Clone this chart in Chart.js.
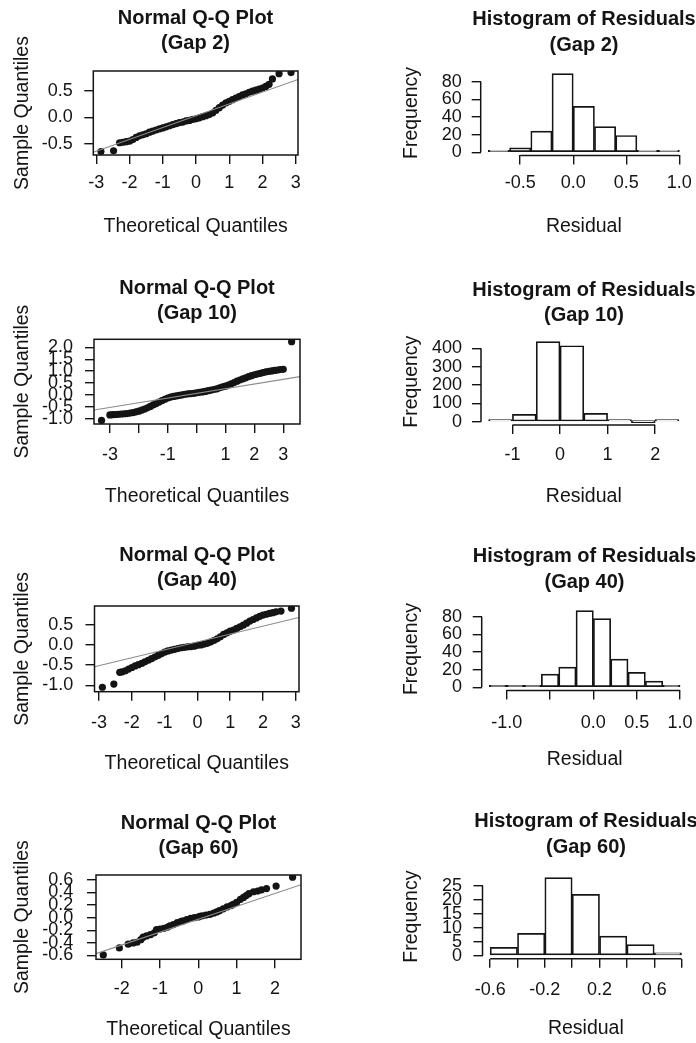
<!DOCTYPE html>
<html>
<head>
<meta charset="utf-8">
<script src="https://cdn.jsdelivr.net/npm/chart.js@4.4.1/dist/chart.umd.min.js"></script>
<style>
  html, body { margin: 0; padding: 0; background: #fff; overflow: hidden; }
  #page { position: relative; width: 696px; height: 1043px; overflow: hidden; background: #fff; }
  #page canvas { position: absolute; }
</style>
</head>
<body>
<div id="page"></div>
<script>
// ---- data ----
// Q-Q plots: theoretical quantile / sample quantile pairs
const qq2Theo = [-2.86, -2.48, -2.3, -2.2, -2.1, -2.0, -1.9, -1.8, -1.7, -1.6, -1.5, -1.4, -1.3, -1.2, -1.1, -1.0, -0.9, -0.8, -0.7, -0.6, -0.5, -0.4, -0.3, -0.2, -0.1,
  0.0, 0.1, 0.2, 0.3, 0.4, 0.5, 0.6, 0.7, 0.8, 0.9, 1.0, 1.1, 1.2, 1.3, 1.4, 1.5, 1.6, 1.7, 1.8, 1.9, 2.0, 2.1, 2.2, 2.3, 2.5, 2.86];
const qq2Sample = [-0.645, -0.63, -0.48, -0.47, -0.46, -0.45, -0.42, -0.38, -0.35, -0.33, -0.31, -0.28, -0.26, -0.24, -0.22, -0.20, -0.18, -0.16, -0.14, -0.12, -0.10, -0.09, -0.07, -0.06, -0.04,
  -0.03, -0.01, 0.01, 0.03, 0.05, 0.08, 0.13, 0.18, 0.23, 0.27, 0.30, 0.33, 0.36, 0.39, 0.42, 0.44, 0.47, 0.49, 0.51, 0.53, 0.55, 0.58, 0.62, 0.72, 0.82, 0.84];
const qq2LineX = [-3.09, 3.07];
const qq2LineY = [-0.66, 0.71];

const qq10Theo = [-3.29, -3.0, -2.9, -2.8, -2.7, -2.6, -2.5, -2.4, -2.3, -2.2, -2.1, -2.0, -1.9, -1.8, -1.7, -1.6, -1.5, -1.4, -1.3, -1.2, -1.1,
  -1.0, -0.9, -0.8, -0.7, -0.6, -0.5, -0.4, -0.3, -0.2, -0.1, 0.0, 0.1, 0.2, 0.3, 0.4, 0.5, 0.6, 0.7, 0.8, 0.9,
  1.0, 1.1, 1.2, 1.3, 1.4, 1.5, 1.6, 1.7, 1.8, 1.9, 2.0, 2.1, 2.2, 2.3, 2.4, 2.5, 2.6, 2.7, 2.8, 2.9, 3.0, 3.29];
const qq10Sample = [-1.07, -0.84, -0.83, -0.82, -0.81, -0.80, -0.79, -0.78, -0.76, -0.74, -0.71, -0.68, -0.64, -0.59, -0.54, -0.48, -0.42, -0.36, -0.30, -0.24, -0.18,
  -0.13, -0.09, -0.06, -0.04, -0.02, 0.00, 0.03, 0.05, 0.06, 0.07, 0.09, 0.11, 0.13, 0.15, 0.18, 0.20, 0.23, 0.26, 0.30, 0.34,
  0.37, 0.42, 0.47, 0.52, 0.58, 0.63, 0.68, 0.72, 0.77, 0.81, 0.85, 0.88, 0.91, 0.94, 0.97, 0.99, 1.01, 1.03, 1.05, 1.07, 1.08, 2.24];
const qq10LineX = [-3.55, 3.58];
const qq10LineY = [-0.63, 0.77];

const qq40Theo = [-2.9, -2.55, -2.37, -2.3, -2.2, -2.1, -2.0, -1.9, -1.8, -1.7, -1.6, -1.5, -1.4, -1.3, -1.2, -1.1, -1.0, -0.9, -0.8, -0.7, -0.6, -0.5, -0.4,
  -0.3, -0.2, -0.1, 0.0, 0.1, 0.2, 0.3, 0.4, 0.5, 0.6, 0.7, 0.8, 0.9, 1.0, 1.1, 1.2, 1.3, 1.4, 1.5, 1.6, 1.7, 1.8, 1.9, 2.0, 2.1, 2.2, 2.3, 2.4, 2.55, 2.87];
const qq40Sample = [-1.05, -0.97, -0.68, -0.67, -0.64, -0.60, -0.56, -0.52, -0.49, -0.46, -0.42, -0.38, -0.34, -0.30, -0.26, -0.22, -0.18, -0.15, -0.13, -0.11, -0.09, -0.07, -0.06,
  -0.05, -0.04, -0.03, -0.01, 0.00, 0.02, 0.04, 0.07, 0.11, 0.15, 0.20, 0.26, 0.30, 0.34, 0.37, 0.41, 0.45, 0.49, 0.54, 0.59, 0.63, 0.67, 0.71, 0.74, 0.76, 0.78, 0.80, 0.82, 0.84, 0.91];
const qq40LineX = [-3.14, 3.10];
const qq40LineY = [-0.54, 0.68];

const qq60Theo = [-2.48, -2.06, -1.83, -1.7, -1.6, -1.5, -1.44, -1.35, -1.25, -1.15, -1.09, -1.0, -0.9, -0.8, -0.74, -0.65, -0.55, -0.45, -0.39, -0.3, -0.2, -0.1,
  0.0, 0.04, 0.1, 0.2, 0.3, 0.4, 0.48, 0.55, 0.65, 0.75, 0.85, 0.91, 1.0, 1.1, 1.18, 1.25, 1.32, 1.44, 1.55, 1.65, 1.78, 2.03, 2.46];
const qq60Sample = [-0.59, -0.48, -0.42, -0.40, -0.39, -0.35, -0.31, -0.29, -0.27, -0.24, -0.19, -0.18, -0.17, -0.15, -0.13, -0.11, -0.08, -0.06, -0.05, -0.03, -0.01, 0.00,
  0.01, 0.02, 0.03, 0.04, 0.05, 0.07, 0.09, 0.11, 0.14, 0.17, 0.19, 0.21, 0.24, 0.29, 0.32, 0.35, 0.38, 0.41, 0.42, 0.44, 0.46, 0.50, 0.64];
const qq60LineX = [-2.67, 2.68];
const qq60LineY = [-0.57, 0.52];

// histograms: bin edges and counts
const hist2Edges = [-0.8, -0.6, -0.4, -0.2, 0.0, 0.2, 0.4, 0.6, 0.8, 1.0];
const hist2Counts = [2, 5, 24, 89, 52, 29, 19, 2, 2];
const hist10Edges = [-1.5, -1.0, -0.5, 0.0, 0.5, 1.0, 1.5, 2.0, 2.5];
const hist10Counts = [1, 40, 436, 414, 46, 1, 0, 1];
const hist40Edges = [-1.2, -1.0, -0.8, -0.6, -0.4, -0.2, 0.0, 0.2, 0.4, 0.6, 0.8, 1.0];
const hist40Counts = [1, 1, 2, 15, 23, 87, 78, 32, 17, 7, 2];
const hist60Edges = [-0.6, -0.4, -0.2, 0.0, 0.2, 0.4, 0.6, 0.8];
const hist60Counts = [3, 8, 28, 22, 7, 4, 1];

// axis limits and ticks
const qq2XLim = [-3.09, 3.07], qq2YLim = [-0.71, 0.87];
const qq10XLim = [-3.55, 3.58], qq10YLim = [-1.22, 2.34];
const qq40XLim = [-3.14, 3.10], qq40YLim = [-1.16, 0.965];
const qq60XLim = [-2.67, 2.68], qq60YLim = [-0.66, 0.675];

const qq2XTicks = [-3, -2, -1, 0, 1, 2, 3];
const qq2XLabels = ['-3', '-2', '-1', '0', '1', '2', '3'];
const qq2YTicks = [-0.5, 0, 0.5];
const qq2YLabels = ['-0.5', '0.0', '0.5'];
const qq10XTicks = [-3, -2, -1, 0, 1, 2, 3];
const qq10XLabels = ['-3', '', '-1', '', '1', '2', '3'];
const qq10YTicks = [-1, -0.5, 0, 0.5, 1, 1.5, 2];
const qq10YLabels = ['-1.0', '-0.5', '0.0', '0.5', '1.0', '1.5', '2.0'];
const qq40XTicks = [-3, -2, -1, 0, 1, 2, 3];
const qq40XLabels = ['-3', '-2', '-1', '0', '1', '2', '3'];
const qq40YTicks = [-1, -0.5, 0, 0.5];
const qq40YLabels = ['-1.0', '-0.5', '0.0', '0.5'];
const qq60XTicks = [-2, -1, 0, 1, 2];
const qq60XLabels = ['-2', '-1', '0', '1', '2'];
const qq60YTicks = [-0.6, -0.4, -0.2, 0, 0.2, 0.4, 0.6];
const qq60YLabels = ['-0.6', '-0.4', '-0.2', '0.0', '0.2', '0.4', '0.6'];

const hist2XTicks = [-0.5, 0, 0.5, 1.0];
const hist2XLabels = ['-0.5', '0.0', '0.5', '1.0'];
const hist2YTicks = [0, 20, 40, 60, 80];
const hist10XTicks = [-1, 0, 1, 2];
const hist10XLabels = ['-1', '0', '1', '2'];
const hist10YTicks = [0, 100, 200, 300, 400];
const hist40XTicks = [-1.0, -0.5, 0, 0.5, 1.0];
const hist40XLabels = ['-1.0', '', '0.0', '0.5', '1.0'];
const hist40YTicks = [0, 20, 40, 60, 80];
const hist60XTicks = [-0.6, -0.4, -0.2, 0, 0.2, 0.4, 0.6, 0.8];
const hist60XLabels = ['-0.6', '', '-0.2', '', '0.2', '', '0.6', ''];
const hist60YTicks = [0, 5, 10, 15, 20, 25];

// ---- layout (page pixels) ----
const geo = {
  qq2:    {col: 0,   L: 93.3,  R: 298,   T: 71,    B: 155,   titleY: 18.3,  xLabY: 183.3, xTitleY: 226.7, yTitleX: 22.7,  yLabRight: 72.7},
  hist2:  {col: 348, L: 480.7, R: 687,   T: 70.5,  B: 155.4, titleY: 19.5,  xLabY: 183.3, xTitleY: 226.7, yTitleX: 411.7, yLabRight: 461.7},
  qq10:   {col: 0,   L: 94,    R: 300,   T: 339.3, B: 424,   titleY: 288.3, xLabY: 455,   xTitleY: 496.7, yTitleX: 22.7,  yLabRight: 73},
  hist10: {col: 348, L: 481,   R: 686.6, T: 338.5, B: 424.9, titleY: 290,   xLabY: 455,   xTitleY: 496.7, yTitleX: 411.7, yLabRight: 462},
  qq40:   {col: 0,   L: 94.5,  R: 299,   T: 606,   B: 691.7, titleY: 555,   xLabY: 723.3, xTitleY: 763.3, yTitleX: 22.7,  yLabRight: 73.3},
  hist40: {col: 348, L: 481.7, R: 687.7, T: 607.6, B: 690.4, titleY: 556.7, xLabY: 723.3, xTitleY: 760,   yTitleX: 411.7, yLabRight: 462},
  qq60:   {col: 0,   L: 96,    R: 301,   T: 875,   B: 959.3, titleY: 823.3, xLabY: 989.3, xTitleY: 1030,  yTitleX: 22.7,  yLabRight: 73.3},
  hist60: {col: 348, L: 482.5, R: 689.2, T: 874.5, B: 958.8, titleY: 821.7, xLabY: 990,   xTitleY: 1028.3, yTitleX: 411.7, yLabRight: 462}
};

const ink = '#141414';
const TICK = 9, TICK_FONT = 18, AXIS_FONT = 19.5, TITLE_FONT = 20, TITLE_LH = 25.5;
Chart.defaults.font.family = '"Liberation Sans", Arial, Helvetica, sans-serif';
Chart.defaults.color = ink;

// R style axes: box for qqnorm, axis line from first to last tick for hist
const rAxes = {
  id: 'rAxes',
  afterDatasetsDraw(chart, args, opts) {
    const {ctx, chartArea: a, scales: {x, y}} = chart;
    ctx.save();
    ctx.strokeStyle = ink;
    ctx.lineWidth = 1.5;
    if (opts.box) {
      ctx.strokeRect(a.left, a.top, a.right - a.left, a.bottom - a.top);
    } else {
      const xt = x.ticks, yt = y.ticks;
      ctx.beginPath();
      ctx.moveTo(x.getPixelForValue(xt[0].value), a.bottom);
      ctx.lineTo(x.getPixelForValue(xt[xt.length - 1].value), a.bottom);
      ctx.moveTo(a.left, y.getPixelForValue(yt[0].value));
      ctx.lineTo(a.left, y.getPixelForValue(yt[yt.length - 1].value));
      ctx.stroke();
    }
    ctx.restore();
  }
};

function axisOpts(isX, g, box, lim, ticks, labels, text) {
  const tickLH = TICK_FONT * 1.2, axisLH = AXIS_FONT * 1.2;
  return {
    type: 'linear',
    position: isX ? 'bottom' : 'left',
    min: lim[0], max: lim[1],
    offset: false,
    afterBuildTicks: s => { s.ticks = ticks.map(v => ({value: v})); },
    afterFit: s => {
      if (isX) s.height = box.cy + box.ch - g.B;
      else s.width = g.L - box.cx;
    },
    grid: {drawOnChartArea: false, drawTicks: true, tickLength: TICK, color: ink, lineWidth: 1.4, offset: false},
    border: {display: false},
    ticks: {
      autoSkip: false, maxRotation: 0, minRotation: 0, color: ink,
      font: {size: TICK_FONT, lineHeight: 1.2},
      padding: isX ? g.xLabY - g.B - TICK - tickLH / 2 : g.L - TICK - g.yLabRight,
      callback: (v, i) => labels[i]
    },
    title: {
      display: true, text, color: ink,
      font: {size: AXIS_FONT, lineHeight: 1.2},
      padding: isX ? {top: 0, bottom: box.cy + box.ch - g.xTitleY - axisLH / 2}
                   : {top: g.yTitleX - box.cx - axisLH / 2, bottom: 0}
    }
  };
}

function panel(g, type, datasets, xAxis, yAxis, title, boxed) {
  const cx = g.col;
  const cy = Math.floor(g.titleY - 20);
  const cw = Math.round(2 * ((g.L + g.R) / 2 - cx));
  const ch = Math.ceil(g.xTitleY - cy + 16);
  const box = {cx, cy, cw, ch};
  const cv = document.createElement('canvas');
  cv.width = cw; cv.height = ch;
  cv.style.left = cx + 'px'; cv.style.top = cy + 'px';
  cv.style.width = cw + 'px'; cv.style.height = ch + 'px';
  document.getElementById('page').appendChild(cv);

  const padTop = g.titleY - cy - TITLE_LH / 2;
  const padBottom = g.T - cy - padTop - 2 * TITLE_LH;

  return new Chart(cv, {
    type,
    data: {datasets},
    options: {
      responsive: false,
      animation: false,
      devicePixelRatio: 1,
      layout: {padding: 0},
      plugins: {
        legend: {display: false},
        tooltip: {enabled: false},
        title: {
          display: true, text: title, color: ink,
          font: {size: TITLE_FONT, weight: 'bold', lineHeight: TITLE_LH / TITLE_FONT},
          padding: {top: padTop, bottom: padBottom}
        },
        rAxes: {box: boxed}
      },
      scales: {
        x: axisOpts(true, g, box, xAxis.lim, xAxis.ticks, xAxis.labels, xAxis.title),
        y: axisOpts(false, g, box, yAxis.lim, yAxis.ticks, yAxis.labels, yAxis.title),
        // empty right-hand margin so the title centres on the plot region, as in R
        margin: {
          type: 'linear', position: 'right', display: true,
          grid: {display: false}, border: {display: false},
          ticks: {display: false}, title: {display: false},
          afterFit: s => { s.width = cx + cw - g.R; }
        }
      }
    },
    plugins: [rAxes]
  });
}

function qqPanel(g, gap, theo, sample, lineX, lineY, xLim, yLim, xTicks, xLabels, yTicks, yLabels) {
  const datasets = [
    {
      data: lineX.map((x, i) => ({x, y: lineY[i]})),
      showLine: true, borderColor: '#8c8c8c', borderWidth: 1.1, pointRadius: 0
    },
    {
      data: theo.map((x, i) => ({x, y: sample[i]})),
      pointRadius: 3.6, pointBackgroundColor: '#141414', pointBorderWidth: 0, showLine: false
    }
  ];
  panel(g, 'scatter', datasets,
    {lim: xLim, ticks: xTicks, labels: xLabels, title: 'Theoretical Quantiles'},
    {lim: yLim, ticks: yTicks, labels: yLabels, title: 'Sample Quantiles'},
    ['Normal Q-Q Plot', '(Gap ' + gap + ')'], true);
}

function histPanel(g, gap, edges, counts, xTicks, xLabels, yTicks) {
  const span = edges[edges.length - 1] - edges[0];
  const top = Math.max(...counts);
  const xLim = [edges[0] - 0.04 * span, edges[edges.length - 1] + 0.04 * span];
  const yLim = [-0.04 * top, 1.04 * top];
  const datasets = [{
    data: counts.map((c, i) => ({x: (edges[i] + edges[i + 1]) / 2, y: c})),
    backgroundColor: '#ffffff', borderColor: ink, borderWidth: 1.7, borderSkipped: false,
    barPercentage: 1, categoryPercentage: 1, minBarLength: 2
  }];
  panel(g, 'bar', datasets,
    {lim: xLim, ticks: xTicks, labels: xLabels, title: 'Residual'},
    {lim: yLim, ticks: yTicks, labels: yTicks.map(String), title: 'Frequency'},
    ['Histogram of Residuals', '(Gap ' + gap + ')'], false);
}

qqPanel(geo.qq2, 2, qq2Theo, qq2Sample, qq2LineX, qq2LineY, qq2XLim, qq2YLim, qq2XTicks, qq2XLabels, qq2YTicks, qq2YLabels);
histPanel(geo.hist2, 2, hist2Edges, hist2Counts, hist2XTicks, hist2XLabels, hist2YTicks);
qqPanel(geo.qq10, 10, qq10Theo, qq10Sample, qq10LineX, qq10LineY, qq10XLim, qq10YLim, qq10XTicks, qq10XLabels, qq10YTicks, qq10YLabels);
histPanel(geo.hist10, 10, hist10Edges, hist10Counts, hist10XTicks, hist10XLabels, hist10YTicks);
qqPanel(geo.qq40, 40, qq40Theo, qq40Sample, qq40LineX, qq40LineY, qq40XLim, qq40YLim, qq40XTicks, qq40XLabels, qq40YTicks, qq40YLabels);
histPanel(geo.hist40, 40, hist40Edges, hist40Counts, hist40XTicks, hist40XLabels, hist40YTicks);
qqPanel(geo.qq60, 60, qq60Theo, qq60Sample, qq60LineX, qq60LineY, qq60XLim, qq60YLim, qq60XTicks, qq60XLabels, qq60YTicks, qq60YLabels);
histPanel(geo.hist60, 60, hist60Edges, hist60Counts, hist60XTicks, hist60XLabels, hist60YTicks);
</script>
</body>
</html>
